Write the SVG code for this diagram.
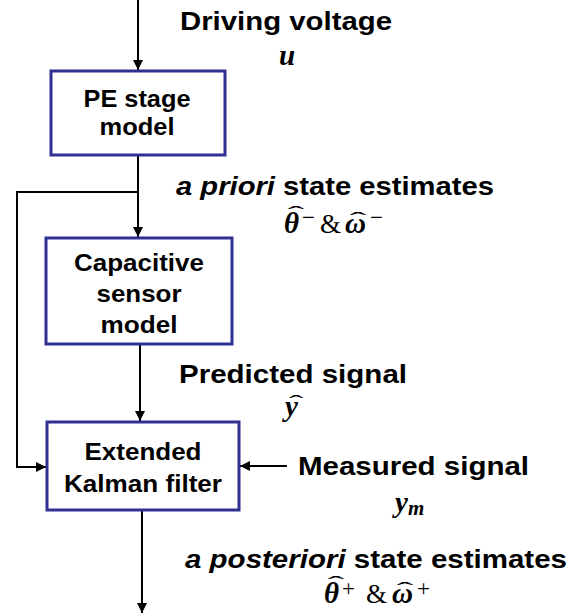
<svg xmlns="http://www.w3.org/2000/svg" width="571" height="615" viewBox="0 0 571 615">
<style>
.box{fill:#fff;stroke:#2E3192;stroke-width:3}
.bt{font-family:"Liberation Sans",Arial,sans-serif;font-weight:bold;font-size:24px;fill:#000;text-anchor:middle}
.lb{font-family:"Liberation Sans",Arial,sans-serif;font-weight:bold;font-size:26px;fill:#000}
.m{font-family:"Liberation Serif","DejaVu Serif",serif;font-weight:bold;font-style:italic;font-size:29px;fill:#000}
.amp{font-family:"Liberation Serif","DejaVu Serif",serif;font-size:27px;fill:#000}
.sup{font-family:"Liberation Serif","DejaVu Serif",serif;font-size:23px;fill:#000}
.hat{font-family:"Liberation Serif","DejaVu Serif",serif;font-size:22px;fill:#000;text-anchor:middle}
.conn{fill:none;stroke:#000;stroke-width:2}
</style>
<defs>
<marker id="ah" markerUnits="userSpaceOnUse" markerWidth="10" markerHeight="10" refX="10" refY="5" orient="auto">
<path d="M0,0 L10,5 L0,10 z" fill="#000"/>
</marker>
</defs>
<g id="connectors">
<path class="conn" d="M138,0 V70" marker-end="url(#ah)"/>
<path class="conn" d="M138,155 V237" marker-end="url(#ah)"/>
<path class="conn" d="M138,192 H17 V467 H46" marker-end="url(#ah)"/>
<path class="conn" d="M140,344 V421" marker-end="url(#ah)"/>
<path class="conn" d="M287,466 H240" marker-end="url(#ah)"/>
<path class="conn" d="M142,510 V613" marker-end="url(#ah)"/>
</g>
<g id="pe-stage">
<rect class="box" x="51" y="71" width="174" height="84"/>
<text class="bt" x="137" y="107" textLength="107" lengthAdjust="spacingAndGlyphs">PE stage</text>
<text class="bt" x="137" y="135" textLength="75" lengthAdjust="spacingAndGlyphs">model</text>
</g>
<g id="capacitive-sensor">
<rect class="box" x="46" y="238" width="186" height="106"/>
<text class="bt" x="139" y="271" textLength="130" lengthAdjust="spacingAndGlyphs">Capacitive</text>
<text class="bt" x="139" y="302" textLength="85" lengthAdjust="spacingAndGlyphs">sensor</text>
<text class="bt" x="139" y="333" textLength="77" lengthAdjust="spacingAndGlyphs">model</text>
</g>
<g id="ekf">
<rect class="box" x="47" y="422" width="192" height="88"/>
<text class="bt" x="143" y="460" textLength="117" lengthAdjust="spacingAndGlyphs">Extended</text>
<text class="bt" x="143" y="492" textLength="158" lengthAdjust="spacingAndGlyphs">Kalman filter</text>
</g>
<g id="labels">
<text class="lb" x="180" y="30" textLength="212" lengthAdjust="spacingAndGlyphs">Driving voltage</text>
<text class="m" x="287" y="65" text-anchor="middle">u</text>

<text class="lb" x="176" y="195" textLength="318" lengthAdjust="spacingAndGlyphs"><tspan font-style="italic">a priori</tspan> state estimates</text>
<text class="m" x="284" y="233">θ</text>
<text class="hat" transform="translate(296,221) scale(2.3,1)">ˆ</text>
<text class="sup" x="302" y="225">−</text>
<text class="amp" x="320" y="233">&amp;</text>
<text class="m" x="345" y="233">ω</text>
<text class="hat" transform="translate(358,227) scale(2.3,1)">ˆ</text>
<text class="sup" x="370" y="225">−</text>

<text class="lb" x="179" y="383" textLength="228" lengthAdjust="spacingAndGlyphs">Predicted signal</text>
<text class="m" x="285" y="416">y</text>
<text class="hat" transform="translate(296,410) scale(2,1)">ˆ</text>

<text class="lb" x="298" y="475" textLength="231" lengthAdjust="spacingAndGlyphs">Measured signal</text>
<text class="m" x="395" y="512">y<tspan font-size="21px" dy="3">m</tspan></text>

<text class="lb" x="185" y="568" textLength="382" lengthAdjust="spacingAndGlyphs"><tspan font-style="italic">a posteriori</tspan> state estimates</text>
<text class="m" x="324" y="603">θ</text>
<text class="hat" transform="translate(336,591) scale(2.3,1)">ˆ</text>
<text class="sup" x="342" y="596">+</text>
<text class="amp" x="366" y="603">&amp;</text>
<text class="m" x="392" y="603">ω</text>
<text class="hat" transform="translate(405,597) scale(2.3,1)">ˆ</text>
<text class="sup" x="417" y="596">+</text>
</g>
</svg>
